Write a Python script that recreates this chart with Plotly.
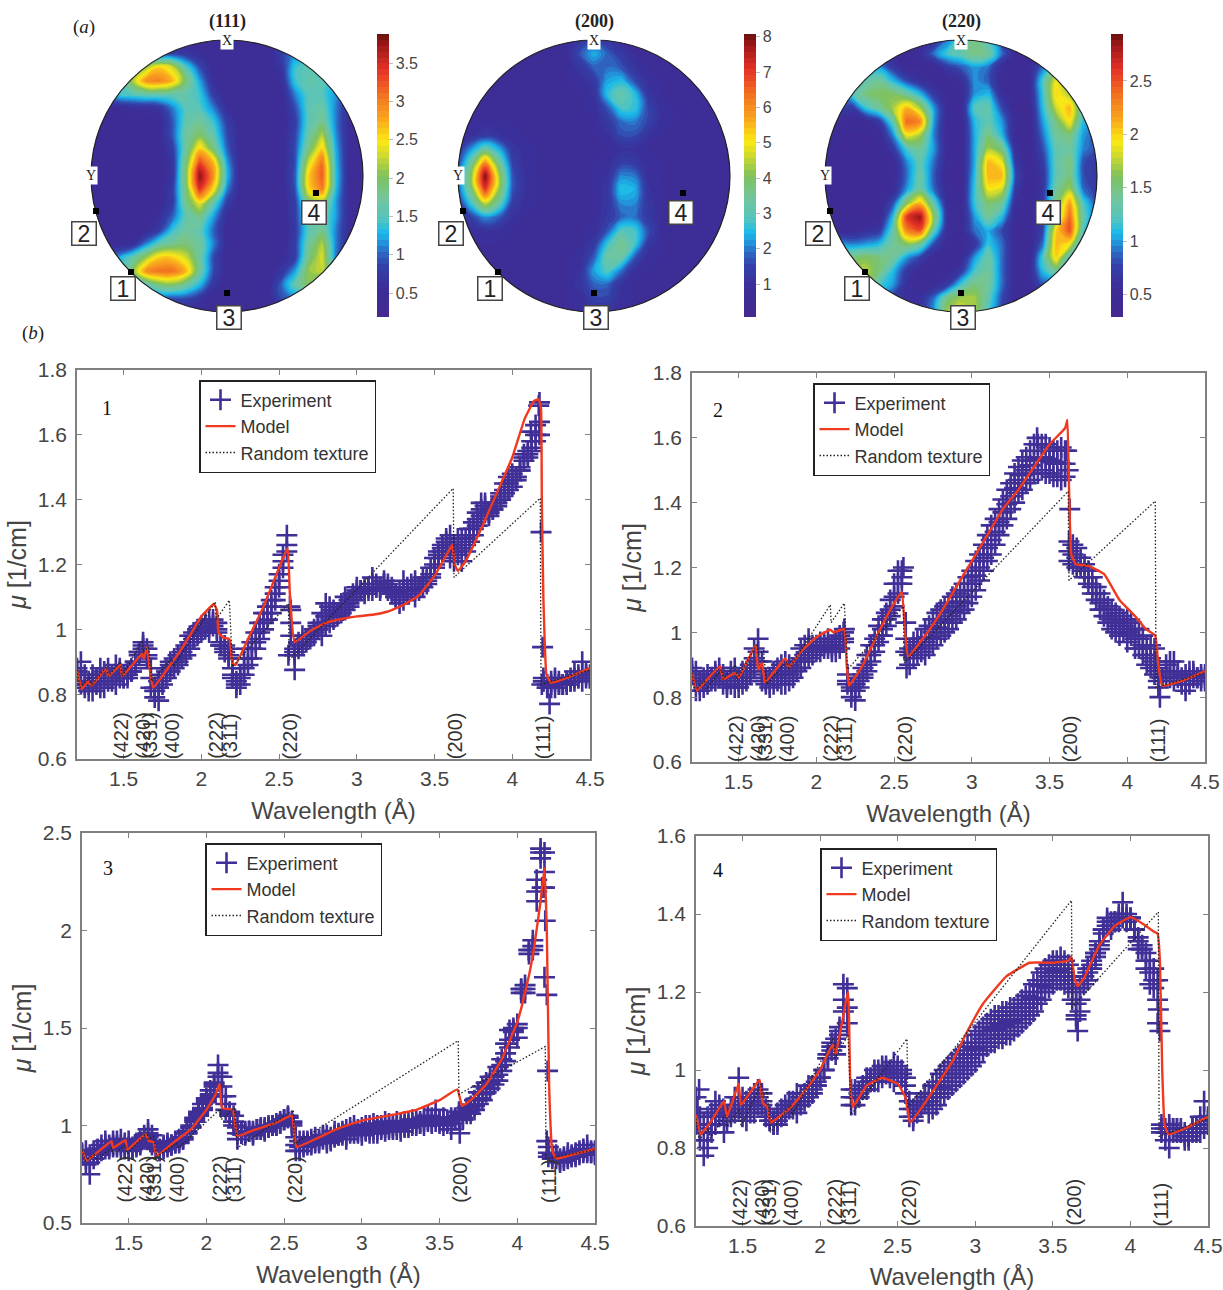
import plotly.graph_objects as go
import numpy as np

W, H = 1223, 1290

# ---------- pole figure data (rows top to bottom) ----------
pole_x = [-1.0,-0.9,-0.8,-0.7,-0.6,-0.5,-0.4,-0.3,-0.2,-0.1,0.0,0.1,0.2,0.3,0.4,0.5,0.6,0.7,0.8,0.9,1.0]
pole_y = [1.0,0.9,0.8,0.7,0.6,0.5,0.4,0.3,0.2,0.1,0.0,-0.1,-0.2,-0.3,-0.4,-0.5,-0.6,-0.7,-0.8,-0.9,-1.0]

pole_111 = [
[.5,.5,.5,.5,.5,.5,.5,.5,.5,.5,.5,.5,.5,.5,.5,.5,.5,.5,.5,.5,.5],
[.7,.7,.7,.7,.7,.7,.8,.7,.6,.5,.5,.5,.5,.5,.8,1.1,1.0,.7,.5,.5,.5],
[1.1,1.1,1.1,1.3,2.1,2.6,2.3,1.5,.9,.5,.5,.5,.5,.5,.7,1.4,1.55,1.3,.8,.5,.5],
[1.3,1.3,1.3,2.1,2.9,3.0,2.7,1.9,1.2,.6,.5,.5,.5,.5,.6,1.4,1.6,1.55,1.15,.7,.5],
[1.1,1.1,1.4,1.5,1.6,1.6,1.6,1.6,1.4,.8,.5,.5,.5,.5,.5,1.1,1.55,1.5,1.15,.7,.5],
[.5,.5,.5,.6,.6,.7,1.1,1.55,1.5,1.1,.6,.5,.5,.5,.5,.9,1.55,1.65,1.1,.6,.5],
[.45,.45,.45,.45,.45,.5,.95,1.6,1.75,1.4,.8,.5,.5,.5,.5,.8,1.55,1.8,1.1,.55,.5],
[.45,.45,.45,.45,.45,.5,.95,1.7,2.0,1.6,.9,.5,.5,.5,.5,.85,1.65,2.2,1.15,.55,.5],
[.45,.45,.45,.45,.45,.5,.8,1.7,2.6,1.9,1.0,.5,.5,.5,.5,.9,1.85,2.6,1.25,.55,.5],
[.43,.43,.43,.43,.43,.45,.7,1.9,3.3,2.7,1.2,.5,.5,.5,.5,.9,2.3,3.1,1.3,.55,.5],
[.43,.43,.43,.43,.43,.45,.7,2.0,3.8,2.9,1.3,.5,.5,.5,.5,.95,2.6,3.2,1.35,.55,.5],
[.43,.43,.43,.43,.43,.45,.8,1.9,3.4,2.5,1.1,.5,.5,.5,.5,.9,2.5,3.0,1.3,.55,.5],
[.45,.45,.45,.45,.45,.5,.8,1.8,2.4,1.6,.8,.5,.5,.5,.5,.8,1.85,2.0,1.2,.55,.5],
[.45,.45,.45,.45,.45,.6,1.0,1.6,1.8,1.2,.6,.5,.5,.5,.5,.8,1.6,1.7,1.2,.55,.5],
[.45,.45,.45,.45,.5,.8,1.4,1.7,1.6,1.0,.55,.5,.5,.5,.5,.75,1.55,1.8,1.1,.55,.5],
[.5,.5,.5,.6,1.1,1.6,1.8,1.9,1.7,1.1,.55,.5,.5,.5,.5,.8,1.7,2.2,1.1,.55,.5],
[1.0,1.0,1.2,1.6,2.1,2.6,2.6,2.3,1.7,.9,.5,.5,.5,.5,.55,.8,1.85,2.35,1.1,.55,.5],
[1.2,1.2,1.2,1.9,2.9,3.1,3.1,2.7,1.7,.9,.5,.5,.5,.5,.7,1.2,2.1,2.25,1.3,.6,.5],
[1.1,1.1,1.1,1.2,1.5,1.9,2.0,1.7,1.3,.7,.5,.5,.5,.5,1.0,1.6,2.0,1.6,.9,.5,.5],
[.7,.7,.7,.7,.7,.9,.9,.9,.7,.5,.5,.5,.5,.5,.9,1.1,1.0,.7,.5,.5,.5],
[.5,.5,.5,.5,.5,.5,.5,.5,.5,.5,.5,.5,.5,.5,.5,.5,.5,.5,.5,.5,.5],
]

pole_200 = [
[.9,.9,.9,.9,.9,.9,.9,.9,.9,1.2,1.5,1.2,.9,.9,.9,.9,.9,.9,.9,.9,.9],
[.9,.9,.9,.9,.9,.9,.9,.9,.9,1.7,2.4,1.8,1.3,.9,.9,.9,.9,.9,.9,.9,.9],
[.9,.9,.9,.9,.9,.9,.9,.9,.9,1.2,1.8,1.9,1.7,1.1,.9,.9,.9,.9,.9,.9,.9],
[.9,.9,.9,.9,.9,.9,.9,.9,.9,.95,1.3,2.3,2.5,1.6,1.0,.9,.9,.9,.9,.9,.9],
[.9,.9,.9,.9,.9,.9,.9,.9,.9,.9,1.1,2.6,3.2,2.6,1.2,.9,.9,.9,.9,.9,.9],
[.9,.9,.9,.9,.9,.9,.9,.9,.9,.9,.95,1.7,2.8,2.7,1.5,.95,.9,.9,.9,.9,.9],
[.9,.9,.9,.9,.9,.9,.9,.9,.9,.9,.9,1.3,1.9,2.0,1.5,.95,.9,.9,.9,.9,.9],
[.9,1.0,1.3,1.1,.95,.9,.9,.9,.9,.9,.9,1.05,1.6,1.6,1.1,.9,.9,.9,.9,.9,.9],
[1.2,2.2,3.2,2.4,1.2,.95,.9,.9,.9,.9,.9,.9,1.0,1.0,.9,.9,.9,.9,.9,.9,.9],
[1.5,3.4,6.0,3.5,1.5,.95,.9,.9,.9,.9,.9,.95,1.4,1.3,.95,.9,.9,.9,.9,.9,.9],
[1.8,4.2,8.0,4.4,1.7,1.0,.9,.9,.9,.9,.9,1.1,2.1,2.0,1.0,.9,.9,.9,.9,.9,.9],
[1.7,3.8,7.0,4.2,1.7,1.0,.9,.9,.9,.9,.9,1.2,2.6,2.4,1.1,.9,.9,.9,.9,.9,.9],
[1.2,2.8,4.6,3.3,1.4,.95,.9,.9,.9,.9,.9,1.2,2.1,2.1,1.2,.9,.9,.9,.9,.9,.9],
[.9,1.5,2.2,1.8,1.1,.9,.9,.9,.9,.9,.9,1.3,1.8,1.9,1.3,.9,.9,.9,.9,.9,.9],
[.9,.95,1.1,1.0,.9,.9,.9,.9,.9,.9,.95,1.7,2.9,2.8,1.6,.9,.9,.9,.9,.9,.9],
[.9,.9,.9,.9,.9,.9,.9,.9,.9,.9,1.3,2.7,3.6,2.8,1.2,.9,.9,.9,.9,.9,.9],
[.9,.9,.9,.9,.9,.9,.9,.9,.9,.95,1.8,3.3,3.3,1.7,.95,.9,.9,.9,.9,.9,.9],
[.9,.9,.9,.9,.9,.9,.9,.9,.9,1.1,2.3,2.9,1.9,1.0,.9,.9,.9,.9,.9,.9,.9],
[.9,.9,.9,.9,.9,.9,.9,.9,.9,1.2,1.8,1.8,1.1,.9,.9,.9,.9,.9,.9,.9,.9],
[.9,.9,.9,.9,.9,.9,.9,.9,.9,.95,1.5,1.5,1.0,.9,.9,.9,.9,.9,.9,.9,.9],
[.9,.9,.9,.9,.9,.9,.9,.9,.9,.9,1.1,1.1,.9,.9,.9,.9,.9,.9,.9,.9,.9],
]

pole_220 = [
[.5,.5,.5,.5,.5,.5,.5,.5,.6,.9,1.3,1.5,1.2,.7,.5,.5,.5,.5,.5,.5,.5],
[.5,.5,.5,.5,.5,.5,.5,.55,.9,1.2,1.3,1.5,1.4,.9,.5,.5,.5,.5,.5,.5,.5],
[.7,.7,.7,.8,1.0,.7,.5,.5,.5,.7,.85,1.0,.9,.55,.45,.5,.9,1.3,1.2,.8,.7],
[1.0,1.0,1.0,1.3,1.4,1.1,.8,.6,.5,.5,.55,1.0,.85,.5,.45,.5,1.2,1.9,1.5,.9,.8],
[1.2,.9,1.2,1.5,1.6,1.6,1.4,1.1,.7,.5,.5,1.0,1.1,.6,.45,.5,1.15,2.0,1.7,1.1,.9],
[.9,.8,.7,1.15,1.4,1.7,2.1,1.7,1.0,.5,.5,1.25,1.3,.8,.45,.45,1.1,1.8,2.1,1.2,.9],
[.9,.55,.5,.5,.7,1.3,2.4,2.3,1.0,.5,.45,1.1,1.3,1.0,.5,.45,1.0,1.5,1.95,1.1,.9],
[.7,.47,.45,.45,.5,.95,1.9,1.7,.95,.5,.45,1.05,1.5,1.1,.5,.45,.9,1.4,1.5,1.0,.8],
[.5,.45,.44,.44,.46,.7,1.2,1.4,1.0,.5,.45,1.05,1.7,1.5,.6,.45,.8,1.3,1.4,.95,.8],
[.46,.44,.43,.43,.45,.5,.95,1.3,.9,.5,.45,1.05,2.1,1.9,.7,.45,.7,1.3,1.5,.8,.7],
[.46,.44,.43,.43,.45,.5,.9,1.35,.85,.45,.45,1.1,2.1,2.1,.8,.45,.65,1.3,1.5,.8,.7],
[.46,.44,.43,.43,.45,.55,1.0,1.4,.9,.5,.45,1.15,1.9,1.8,.7,.45,.65,1.4,1.7,.9,.7],
[.47,.44,.44,.44,.46,.8,1.6,2.1,1.3,.55,.45,1.15,1.55,1.4,.6,.45,.7,1.5,2.2,1.2,.8],
[.5,.45,.45,.45,.47,1.1,2.6,2.85,1.6,.6,.45,1.0,1.4,1.1,.5,.45,.7,1.6,2.4,1.3,.8],
[.6,.5,.5,.6,.7,1.3,2.3,2.5,1.3,.55,.5,.9,1.05,.8,.5,.45,.75,2.0,2.5,1.2,.8],
[.8,1.0,.95,1.0,1.1,1.4,1.6,1.4,.8,.5,.5,.65,1.15,.9,.5,.45,.9,2.1,1.9,.9,.7],
[1.3,1.3,1.5,1.6,1.5,1.4,1.0,.75,.5,.45,.5,1.0,1.35,.9,.5,.45,1.2,2.0,1.2,.7,.6],
[1.7,1.7,1.7,1.75,1.5,1.1,.7,.5,.45,.5,.7,1.2,1.4,.9,.5,.5,1.1,1.4,.8,.6,.5],
[1.7,1.7,1.7,1.6,1.2,1.0,.6,.5,.55,.7,1.2,1.5,1.4,.9,.5,.5,.8,.7,.5,.5,.5],
[1.5,1.5,1.5,1.4,1.0,.7,.6,.6,.9,1.5,1.7,1.7,1.3,.8,.5,.5,.5,.5,.5,.5,.5],
[1.5,1.5,1.5,1.4,1.0,.7,.6,.6,1.0,1.7,1.8,1.7,1.2,.8,.5,.5,.5,.5,.5,.5,.5],
]

pole_names = ["(111)", "(200)", "(220)"]
pole_centres_px = [227, 594, 961]
pole_zrange = [(0.19, 3.88), (0.07, 8.08), (0.29, 2.94)]
pole_ticks = [[.5,1,1.5,2,2.5,3,3.5], [1,2,3,4,5,6,7,8], [.5,1,1.5,2,2.5]]
cbar_left_px = [377, 744, 1111]

spot_names = ["1", "2", "3", "4"]
spot_x = [-0.706, -0.963, 0.0, 0.654]
spot_y = [-0.706, -0.257, -0.86, -0.125]
spot_label_x = [-0.765, -1.05, 0.015, 0.64]
spot_label_y = [-0.83, -0.42, -1.037, -0.265]

colors = [[0,'#44298f'],[.1,'#3c2d98'],[.18,'#3440a8'],[.23,'#2c6cc4'],[.27,'#1f9fe0'],[.30,'#1bbbe8'],
          [.35,'#58c5bd'],[.42,'#72c59a'],[.5,'#80c25c'],[.57,'#cfd92e'],[.62,'#fbe914'],[.69,'#f9ad1e'],
          [.77,'#f47c20'],[.87,'#e63327'],[.95,'#a81b1b'],[1,'#6e0f10']]

# ---------- attenuation spectra ----------
wavelengths = [1.2,1.225,1.25,1.275,1.3,1.325,1.35,1.375,1.4,1.425,
 1.45,1.475,1.5,1.525,1.55,1.575,1.6,1.625,1.65,1.675,
 1.7,1.725,1.75,1.775,1.8,1.825,1.85,1.875,1.9,1.925,
 1.95,1.975,2.0,2.025,2.05,2.075,2.1,2.125,2.15,2.175,
 2.2,2.225,2.25,2.275,2.3,2.325,2.35,2.375,2.4,2.425,
 2.45,2.475,2.5,2.525,2.55,2.575,2.6,2.625,2.65,2.675,
 2.7,2.725,2.75,2.775,2.8,2.825,2.85,2.875,2.9,2.925,
 2.95,2.975,3.0,3.025,3.05,3.075,3.1,3.125,3.15,3.175,
 3.2,3.225,3.25,3.275,3.3,3.325,3.35,3.375,3.4,3.425,
 3.45,3.475,3.5,3.525,3.55,3.575,3.6,3.625,3.65,3.675,
 3.7,3.725,3.75,3.775,3.8,3.825,3.85,3.875,3.9,3.925,
 3.95,3.975,4.0,4.025,4.05,4.075,4.1,4.125,4.15,4.175,
 4.2,4.225,4.25,4.275,4.3,4.325,4.35,4.375,4.4,4.425,
 4.45,4.475,4.5]

exp1_hi = [.88,.90,.86,.84,.86,.85,.88,.87,.88,.86,
 .89,.88,.85,.87,.88,.90,.93,.96,.94,.88,
 .82,.84,.86,.88,.90,.91,.92,.93,.95,.98,
 .99,1.00,1.01,1.02,1.03,1.03,1.02,.96,.95,.94,
 .88,.84,.86,.91,.94,.96,.99,1.02,1.05,1.07,
 1.09,1.13,1.17,1.23,1.29,1.06,.94,.96,.98,.97,
 .98,1.00,1.02,1.05,1.08,1.07,1.06,1.05,1.08,1.10,
 1.09,1.11,1.13,1.12,1.13,1.12,1.16,1.14,1.13,1.15,
 1.14,1.13,1.11,1.12,1.15,1.13,1.14,1.15,1.13,1.16,
 1.16,1.19,1.22,1.24,1.26,1.28,1.29,1.26,1.28,1.28,
 1.28,1.31,1.33,1.36,1.39,1.39,1.36,1.38,1.39,1.42,
 1.45,1.47,1.48,1.47,1.50,1.54,1.55,1.58,1.63,1.70,
 .85,.83,.84,.85,.84,.83,.84,.85,.87,.86,.90,.87,.85]
exp1_mid = [.87,.84,.83,.83,.84,.84,.85,.86,.86,.85,
 .86,.87,.85,.86,.87,.90,.93,.95,.92,.85,
 .81,.82,.85,.87,.89,.90,.90,.92,.94,.96,
 .98,.99,1.00,1.01,1.01,1.02,1.00,.95,.94,.92,
 .86,.83,.85,.88,.91,.94,.96,.99,1.02,1.05,
 1.07,1.11,1.15,1.21,1.26,1.02,.93,.95,.96,.97,
 .98,.99,1.01,1.02,1.04,1.05,1.04,1.05,1.06,1.08,
 1.08,1.10,1.12,1.12,1.12,1.13,1.14,1.13,1.13,1.14,
 1.13,1.12,1.10,1.10,1.12,1.12,1.13,1.12,1.13,1.14,
 1.15,1.17,1.20,1.23,1.25,1.27,1.26,1.24,1.25,1.25,
 1.26,1.29,1.31,1.34,1.37,1.38,1.36,1.37,1.39,1.41,
 1.43,1.45,1.46,1.47,1.49,1.53,1.54,1.56,1.60,1.64,
 .84,.82,.83,.84,.83,.83,.84,.84,.85,.85,.87,.86,.85]
exp1_lo = [.87,.83,.82,.81,.81,.83,.82,.82,.84,.84,
 .83,.85,.86,.85,.87,.89,.92,.94,.91,.82,
 .79,.78,.83,.85,.87,.88,.89,.91,.92,.94,
 .97,.98,.99,1.00,.99,1.01,.99,.95,.93,.91,
 .85,.82,.83,.86,.89,.91,.94,.97,1.00,1.03,
 1.05,1.09,1.13,1.19,1.24,.98,.92,.94,.95,.96,
 .97,.98,1.00,.98,1.01,1.02,1.03,1.04,1.05,1.06,
 1.07,1.09,1.11,1.12,1.11,1.13,1.12,1.13,1.12,1.14,
 1.12,1.11,1.10,1.08,1.09,1.11,1.12,1.10,1.12,1.13,
 1.14,1.16,1.19,1.22,1.24,1.26,1.22,1.21,1.23,1.21,
 1.24,1.27,1.29,1.32,1.35,1.36,1.35,1.37,1.38,1.40,
 1.42,1.43,1.44,1.46,1.49,1.52,1.53,1.55,1.58,1.60,
 .84,.82,.82,.82,.83,.83,.83,.84,.84,.85,.84,.85,.86]
exp1_extra_x = [4.185,4.195,4.19,2.57,2.6,4.24,2.56,4.17,4.12]
exp1_extra_y = [1.30,.945,.83,1.07,.875,.77,.92,1.69,1.61]

exp2_hi = [.89,.88,.85,.86,.87,.86,.88,.89,.87,.85,
 .88,.89,.86,.88,.88,.90,.95,.98,.91,.86,
 .86,.88,.89,.90,.91,.90,.89,.91,.95,.96,
 .96,.96,.96,.97,.97,.98,.96,.98,.99,1.00,
 .87,.83,.84,.86,.89,.93,.96,.98,1.02,1.04,
 1.06,1.10,1.15,1.19,1.19,1.03,.95,.97,.98,.98,
 1.01,1.02,1.04,1.06,1.07,1.08,1.09,1.11,1.12,1.13,
 1.15,1.17,1.19,1.22,1.24,1.27,1.30,1.33,1.35,1.38,
 1.41,1.44,1.46,1.49,1.51,1.53,1.54,1.56,1.58,1.58,
 1.58,1.58,1.57,1.56,1.56,1.57,1.56,1.28,1.27,1.26,
 1.23,1.21,1.19,1.17,1.14,1.12,1.10,1.08,1.07,1.06,
 1.05,1.04,1.04,1.03,1.01,1.01,.99,.96,.96,.95,
 .88,.86,.90,.91,.91,.88,.86,.87,.88,.88,.86,.85,.85]
exp2_mid = [.88,.85,.84,.85,.85,.86,.87,.87,.86,.84,
 .86,.86,.85,.86,.86,.88,.92,.94,.88,.85,
 .84,.86,.87,.87,.88,.87,.88,.89,.92,.93,
 .94,.95,.95,.96,.96,.96,.95,.96,.97,.98,
 .85,.82,.82,.85,.87,.90,.93,.96,.99,1.01,
 1.04,1.07,1.11,1.15,1.17,.98,.93,.95,.96,.96,
 .97,.985,1.0,1.015,1.03,1.04,1.05,1.065,1.08,1.095,
 1.11,1.13,1.15,1.175,1.20,1.23,1.26,1.285,1.31,1.34,
 1.37,1.395,1.42,1.445,1.47,1.485,1.50,1.515,1.53,1.535,
 1.54,1.535,1.53,1.525,1.52,1.52,1.52,1.25,1.24,1.23,
 1.21,1.19,1.17,1.14,1.12,1.09,1.07,1.05,1.04,1.03,
 1.02,1.02,1.00,1.01,.98,.98,.96,.93,.92,.91,
 .85,.86,.88,.88,.88,.87,.85,.84,.86,.87,.86,.86,.86]
exp2_lo = [.87,.82,.82,.83,.84,.85,.85,.86,.84,.83,
 .84,.83,.83,.84,.85,.87,.89,.91,.85,.84,
 .83,.84,.85,.84,.84,.85,.86,.88,.89,.91,
 .92,.93,.94,.94,.95,.95,.94,.94,.95,.97,
 .84,.80,.79,.83,.86,.88,.91,.94,.97,.99,
 1.02,1.05,1.08,1.12,1.15,.94,.90,.92,.93,.94,
 .93,.95,.96,.98,.99,1.00,1.01,1.03,1.04,1.06,
 1.07,1.09,1.11,1.13,1.16,1.19,1.22,1.24,1.27,1.30,
 1.33,1.35,1.38,1.40,1.43,1.44,1.46,1.47,1.49,1.49,
 1.50,1.49,1.49,1.48,1.48,1.47,1.48,1.22,1.21,1.20,
 1.20,1.17,1.15,1.12,1.10,1.07,1.05,1.03,1.01,1.00,
 .99,1.00,.97,.99,.95,.95,.93,.90,.89,.87,
 .83,.86,.86,.86,.85,.86,.84,.82,.84,.86,.86,.87,.87]
exp2_extra_x = [3.63,3.62,3.61,4.21,4.2,1.95,2.18,2.58,3.42,2.56]
exp2_extra_y = [1.38,1.5,1.56,.80,.89,.98,1.01,.89,1.60,1.20]

exp3_hi = [.86,.87,.85,.87,.88,.90,.92,.90,.92,.92,
 .93,.91,.92,.89,.91,.92,.95,.98,.95,.90,
 .88,.90,.91,.90,.92,.93,.94,.97,1.00,1.04,
 1.07,1.11,1.14,1.18,1.22,1.31,1.25,1.15,1.07,1.05,
 .99,.96,.97,.97,.95,.98,.98,.97,.99,1.00,
 1.00,1.01,1.03,1.04,1.02,.94,.92,.92,.92,.93,
 .94,.93,.95,.95,.94,.97,.96,.97,.98,.99,
 1.00,.98,.99,1.00,1.00,1.01,1.00,1.00,1.02,1.01,
 1.00,1.02,1.01,1.02,1.02,1.03,1.03,1.02,1.04,1.05,
 1.04,1.08,1.03,1.04,1.03,1.04,1.04,1.07,1.06,1.09,
 1.10,1.13,1.17,1.20,1.22,1.25,1.25,1.30,1.34,1.42,
 1.49,1.50,1.52,1.70,1.72,1.88,1.95,2.26,2.42,2.40,
 .89,.85,.85,.83,.84,.86,.85,.86,.87,.88,.90,.86,.85]
exp3_mid = [.85,.83,.81,.85,.86,.88,.90,.89,.90,.90,
 .90,.89,.89,.88,.90,.91,.94,.96,.92,.89,
 .87,.89,.90,.90,.91,.92,.93,.96,.99,1.03,
 1.06,1.09,1.13,1.16,1.21,1.27,1.20,1.11,1.06,1.02,
 .96,.96,.96,.97,.96,.98,.98,.98,.99,1.00,
 1.00,1.01,1.03,1.04,1.01,.90,.89,.90,.91,.91,
 .92,.92,.94,.93,.93,.95,.95,.96,.95,.97,
 .98,.97,.97,.98,.98,.98,.98,.99,.99,.99,
 .99,1.00,.99,1.00,1.00,1.01,1.01,1.01,1.02,1.03,
 1.02,1.04,1.02,1.02,1.02,1.01,1.03,1.05,1.04,1.07,
 1.08,1.10,1.14,1.16,1.19,1.22,1.23,1.26,1.31,1.37,
 1.44,1.49,1.50,1.70,1.70,1.90,1.92,2.20,2.40,2.30,
 .86,.84,.84,.82,.83,.84,.84,.85,.86,.87,.87,.86,.86]
exp3_lo = [.85,.80,.75,.83,.85,.87,.88,.88,.89,.89,
 .88,.88,.87,.88,.89,.90,.93,.94,.90,.88,
 .87,.88,.89,.90,.91,.91,.93,.96,.99,1.02,
 1.05,1.08,1.12,1.15,1.20,1.25,1.15,1.08,1.05,1.00,
 .93,.96,.95,.97,.97,.98,.99,.99,1.00,1.00,
 1.01,1.02,1.03,1.05,1.00,.87,.87,.89,.90,.90,
 .91,.91,.93,.91,.92,.94,.95,.95,.93,.96,
 .96,.96,.95,.97,.96,.96,.96,.98,.97,.98,
 .98,.98,.97,.99,.99,1.00,1.00,1.01,1.00,1.02,
 1.01,1.02,1.01,1.00,1.01,.98,1.03,1.04,1.03,1.06,
 1.06,1.08,1.11,1.13,1.17,1.19,1.21,1.23,1.28,1.33,
 1.40,1.48,1.45,1.68,1.68,1.90,1.90,2.15,2.37,2.22,
 .84,.83,.83,.81,.82,.83,.84,.84,.85,.86,.86,.87,.87]
exp3_extra_x = [4.18,4.175,4.19,4.195,4.19,3.63,4.16]
exp3_extra_y = [2.05,1.76,1.67,1.28,.92,.96,2.22]

exp4_hi = [.93,.88,.86,.88,.89,.92,.91,.90,.88,.90,
 .93,.98,.93,.92,.93,.94,.95,.94,.90,.88,
 .87,.89,.90,.91,.92,.92,.94,.93,.94,.96,
 .96,.97,.98,1.00,1.04,1.07,1.08,1.11,1.22,1.21,
 .95,.95,.94,.96,.98,.98,1.00,1.00,1.01,1.01,
 1.00,1.02,1.01,1.00,.98,.92,.90,.91,.92,.94,
 .94,.96,.97,.99,1.00,1.01,1.02,1.03,1.04,1.05,
 1.06,1.07,1.09,1.10,1.11,1.12,1.13,1.14,1.14,1.15,
 1.15,1.16,1.16,1.17,1.18,1.19,1.20,1.22,1.23,1.25,
 1.26,1.27,1.28,1.28,1.29,1.28,1.27,1.24,1.20,1.21,
 1.24,1.26,1.28,1.29,1.33,1.36,1.39,1.38,1.38,1.40,
 1.43,1.40,1.39,1.36,1.34,1.32,1.30,1.28,1.26,1.23,
 .86,.85,.86,.84,.85,.84,.84,.83,.84,.85,.88,.92,.88]
exp4_mid = [.89,.85,.82,.84,.86,.89,.90,.89,.88,.89,
 .91,.93,.90,.90,.91,.92,.93,.92,.89,.87,
 .86,.87,.89,.90,.91,.91,.91,.92,.93,.94,
 .95,.96,.98,1.00,1.03,1.06,1.06,1.10,1.18,1.16,
 .93,.93,.93,.95,.97,.97,.98,.99,1.00,1.00,
 .99,1.00,1.00,.99,.96,.90,.88,.90,.91,.93,
 .92,.93,.94,.955,.97,.98,.99,1.00,1.01,1.02,
 1.03,1.04,1.055,1.07,1.08,1.09,1.10,1.105,1.11,1.115,
 1.12,1.125,1.13,1.14,1.15,1.16,1.17,1.185,1.20,1.215,
 1.23,1.24,1.25,1.255,1.26,1.25,1.24,1.21,1.17,1.18,
 1.23,1.25,1.27,1.30,1.32,1.36,1.38,1.37,1.38,1.39,
 1.40,1.39,1.39,1.36,1.33,1.31,1.28,1.25,1.23,1.18,
 .85,.84,.85,.85,.85,.84,.83,.83,.85,.85,.86,.88,.87]
exp4_lo = [.86,.82,.78,.80,.84,.86,.88,.89,.87,.88,
 .89,.90,.88,.87,.89,.89,.91,.91,.88,.87,
 .86,.86,.88,.89,.90,.90,.89,.91,.92,.93,
 .94,.96,.98,1.00,1.03,1.05,1.04,1.09,1.15,1.12,
 .91,.91,.93,.95,.95,.97,.97,.97,.98,.99,
 .98,.97,.99,.98,.94,.88,.87,.89,.91,.92,
 .89,.90,.91,.93,.94,.95,.96,.97,.98,.99,
 1.00,1.01,1.02,1.04,1.05,1.06,1.07,1.07,1.08,1.08,
 1.09,1.09,1.10,1.11,1.12,1.13,1.14,1.15,1.17,1.18,
 1.20,1.21,1.22,1.23,1.23,1.22,1.21,1.18,1.13,1.15,
 1.22,1.23,1.26,1.30,1.31,1.35,1.37,1.36,1.38,1.38,
 1.39,1.38,1.39,1.36,1.31,1.31,1.26,1.22,1.21,1.12,
 .84,.82,.84,.85,.84,.85,.82,.82,.85,.84,.84,.85,.86]
exp4_extra_x = [4.18,4.19,3.66,1.22,1.21,1.38,4.25,3.65]
exp4_extra_y = [1.155,1.10,1.10,.95,.90,.84,.80,1.14]

random_x = [1.2,1.22,1.28,1.29,1.39,1.40,1.48,1.49,1.62,1.625,1.66,1.68,1.81,1.82,2.09,2.095,2.18,2.20,2.56,2.565,3.62,3.625,4.18,4.185,4.5]
random_y = [.875,.82,.85,.825,.885,.855,.90,.855,.965,.93,.945,.84,.91,.885,1.085,1.03,1.09,.885,1.08,.905,1.435,1.16,1.405,.83,.875]

m1_x = [1.2,1.23,1.27,1.29,1.39,1.40,1.48,1.49,1.62,1.63,1.65,1.67,1.69,1.8,1.9,2.0,2.08,2.1,2.11,2.14,2.18,2.2,2.22,2.3,2.4,2.5,2.555,2.57,2.6,2.7,2.8,2.9,3.0,3.1,3.2,3.3,3.4,3.5,3.6,3.615,3.63,3.65,3.7,3.8,3.9,4.0,4.08,4.14,4.17,4.185,4.19,4.2,4.22,4.25,4.35,4.5]
m1_y = [.875,.815,.84,.825,.88,.855,.89,.855,.925,.91,.945,.87,.82,.89,.96,1.04,1.078,1.06,.99,.975,.97,.895,.89,.97,1.07,1.19,1.25,1.10,.96,.995,1.02,1.032,1.04,1.045,1.055,1.075,1.105,1.165,1.25,1.26,1.20,1.18,1.21,1.31,1.42,1.53,1.65,1.705,1.71,1.68,1.40,1.10,.86,.835,.85,.88]
m2_x = [1.2,1.23,1.27,1.38,1.4,1.48,1.5,1.61,1.625,1.65,1.67,1.8,1.82,1.9,2.0,2.09,2.11,2.18,2.195,2.21,2.3,2.4,2.5,2.55,2.57,2.59,2.7,2.8,2.9,3.0,3.1,3.2,3.3,3.4,3.5,3.6,3.615,3.625,3.64,3.67,3.75,3.85,3.95,4.05,4.12,4.18,4.2,4.225,4.35,4.5]
m2_y = [.875,.82,.84,.895,.855,.875,.86,.96,.885,.905,.845,.92,.89,.94,.985,1.008,1.0,1.01,.90,.835,.90,1.0,1.09,1.125,1.0,.925,.99,1.06,1.14,1.22,1.30,1.38,1.44,1.51,1.58,1.63,1.655,1.45,1.24,1.21,1.205,1.18,1.10,1.05,1.01,.99,.90,.835,.85,.88]
m3_x = [1.2,1.23,1.39,1.4,1.48,1.49,1.61,1.63,1.66,1.68,1.8,1.9,2.0,2.06,2.085,2.1,2.17,2.2,2.3,2.45,2.55,2.58,2.7,2.85,3.0,3.2,3.35,3.5,3.615,3.645,3.7,3.8,3.9,4.0,4.05,4.1,4.15,4.175,4.19,4.205,4.225,4.25,4.35,4.5]
m3_y = [.875,.82,.92,.885,.925,.875,.955,.92,.915,.845,.92,.98,1.08,1.16,1.215,1.09,1.08,.945,.975,1.015,1.05,.89,.93,.985,1.025,1.055,1.08,1.13,1.185,1.10,1.13,1.21,1.34,1.53,1.68,1.87,2.15,2.32,2.0,1.2,.87,.83,.85,.88]
m4_x = [1.2,1.23,1.3,1.38,1.4,1.475,1.49,1.61,1.63,1.66,1.68,1.8,1.9,2.0,2.08,2.1,2.18,2.195,2.21,2.3,2.4,2.5,2.55,2.58,2.7,2.85,2.95,3.05,3.2,3.35,3.5,3.6,3.62,3.64,3.66,3.7,3.8,3.9,4.0,4.08,4.15,4.175,4.19,4.205,4.22,4.245,4.35,4.5]
m4_y = [.885,.835,.87,.92,.88,.965,.91,.975,.915,.905,.865,.90,.945,1.0,1.065,1.04,1.20,.95,.905,.96,.98,.965,.93,.865,.93,1.02,1.10,1.17,1.24,1.275,1.275,1.28,1.29,1.235,1.215,1.235,1.32,1.37,1.392,1.375,1.355,1.35,1.28,1.0,.86,.835,.85,.88]

hkl_labels = ["(422)","(420)","(331)","(400)","(222)","(311)","(220)","(200)","(111)"]
hkl_x = [1.48,1.62,1.665,1.81,2.09,2.18,2.57,3.63,4.2]

# panels: axis box in page pixels
panel_boxes = [(77,590,370,759),(692,1205,373,762),(82,595,833,1223),(696,1208,836,1226)]
panel_yrange = [(.6,1.8),(.6,1.8),(.5,2.5),(.6,1.6)]
panel_yticks = [[.6,.8,1,1.2,1.4,1.6,1.8],[.6,.8,1,1.2,1.4,1.6,1.8],[.5,1,1.5,2,2.5],[.6,.8,1,1.2,1.4,1.6]]
panel_ytext = [["0.6","0.8","1","1.2","1.4","1.6","1.8"],["0.6","0.8","1","1.2","1.4","1.6","1.8"],["0.5","1","1.5","2","2.5"],["0.6","0.8","1","1.2","1.4","1.6"]]
panel_names = ["1","2","3","4"]
panel_name_px = [(107,408),(718,410),(108,868),(718,870)]
legend_px = [(199,380),(813,383),(205,843),(820,848)]
hkl_bottom = [.6,.6,.605,.6]
model_x = [m1_x,m2_x,m3_x,m4_x]
model_y = [m1_y,m2_y,m3_y,m4_y]
exp_hi = [exp1_hi,exp2_hi,exp3_hi,exp4_hi]
exp_mid = [exp1_mid,exp2_mid,exp3_mid,exp4_mid]
exp_lo = [exp1_lo,exp2_lo,exp3_lo,exp4_lo]
extra_x = [exp1_extra_x,exp2_extra_x,exp3_extra_x,exp4_extra_x]
extra_y = [exp1_extra_y,exp2_extra_y,exp3_extra_y,exp4_extra_y]

SANS = "Liberation Sans"
SERIF = "Liberation Serif"
GREY = "#454545"
INDIGO = "#3f2f96"
RED = "#f0391f"

def px(x): return x / W
def py(y): return 1 - y / H

fig = go.Figure()
layout = dict(width=W, height=H, margin=dict(l=0, r=0, t=0, b=0, autoexpand=False), paper_bgcolor="white", plot_bgcolor="white",
              showlegend=True, font=dict(family=SANS, color=GREY))
shapes, annots = [], []

def note(x, y, text, size=18, family=SERIF, color="#222", **kw):
    annots.append(dict(x=x, y=y, xref="paper", yref="paper", text=text, showarrow=False, xanchor="center", yanchor="middle",
                       font=dict(family=family, size=size, color=color), **kw))

# pole figures
R_PX, CY_PX, PAD = 136, 176, 1.05
circle = [(np.cos(t), np.sin(t)) for t in np.linspace(0, 2*np.pi, 240)]
# the circle is walked in the opposite sense to the square, which leaves a hole
mask_path = f"M{-PAD},{-PAD} L{PAD},{-PAD} L{PAD},{PAD} L{-PAD},{PAD} Z M" + " L".join(f"{a:.4f},{-b:.4f}" for a, b in circle) + " Z"

for i, (z, name, cx, zr, ticks, cb) in enumerate(zip([pole_111, pole_200, pole_220], pole_names, pole_centres_px, pole_zrange, pole_ticks, cbar_left_px)):
    xa, ya = f"x{i+5}", f"y{i+5}"
    half = R_PX * PAD
    layout[f"xaxis{i+5}"] = dict(domain=[px(cx-half), px(cx+half)], range=[-PAD, PAD], visible=False, anchor=ya)
    layout[f"yaxis{i+5}"] = dict(domain=[py(CY_PX+half), py(CY_PX-half)], range=[-PAD, PAD], visible=False, anchor=xa)
    fig.add_trace(go.Contour(x=pole_x, y=pole_y, z=z, xaxis=xa, yaxis=ya, zmin=zr[0], zmax=zr[1], colorscale=colors,
        contours=dict(coloring="fill", start=zr[0], end=zr[1], size=(zr[1]-zr[0])/48, showlines=False),
        line=dict(width=0, smoothing=1.3), showlegend=False, hoverinfo="skip",
        colorbar=dict(x=px(cb), xanchor="left", y=py(34), yanchor="top", len=283, lenmode="pixels", thickness=12,
                      thicknessmode="pixels", xpad=0, ypad=0, outlinewidth=0, tickvals=ticks,
                      ticktext=[str(t) for t in ticks], ticks="outside", ticklen=4, tickcolor="rgba(90,90,90,0.4)", ticklabelposition="outside",
                      tickfont=dict(family=SANS, size=16, color=GREY))))
    shapes.append(dict(type="path", path=mask_path, xref=xa, yref=ya, fillcolor="white", line=dict(width=0), layer="above"))
    shapes.append(dict(type="circle", x0=-1, x1=1, y0=-1, y1=1, xref=xa, yref=ya, line=dict(color="#222", width=1.2), layer="above"))
    for sx, sy in zip(spot_x, spot_y):
        shapes.append(dict(type="rect", xref=xa, yref=ya, xsizemode="pixel", ysizemode="pixel", xanchor=sx, yanchor=sy,
                           x0=-3, x1=3, y0=-3, y1=3, fillcolor="black", line=dict(width=0), layer="above"))
    for lab, lx, ly in zip(spot_names, spot_label_x, spot_label_y):
        annots.append(dict(x=px(cx + lx*R_PX), y=py(CY_PX - ly*R_PX), xref="paper", yref="paper", text=lab, showarrow=False,
                           xanchor="center", yanchor="middle",
                           font=dict(family=SANS, size=23, color="#222"), bgcolor="white", bordercolor="#444",
                           borderwidth=1.5, borderpad=0, width=23, height=22))
    note(px(cx), py(22), f"<b>{name}</b>", size=18)
    note(px(cx), py(40), "X", size=14, bgcolor="white", borderpad=1)
    note(px(cx-136), py(175), "Y", size=14, bgcolor="white", borderpad=1)

note(px(84), py(27), "(<i>a</i>)", size=19)
note(px(33), py(333), "(<i>b</i>)", size=19)

# spectra
for i in range(4):
    n = i + 1
    sfx = "" if i == 0 else str(n)
    x0, x1, top, bot = panel_boxes[i]
    leg = "legend" + sfx
    ex = wavelengths + wavelengths + wavelengths + extra_x[i]
    ey = exp_hi[i] + exp_mid[i] + exp_lo[i] + extra_y[i]
    fig.add_trace(go.Scatter(x=ex, y=ey, mode="markers", name="Experiment", legend=leg, xaxis=f"x{sfx}", yaxis=f"y{sfx}",
        marker=dict(symbol="cross-thin", size=15, color=INDIGO, line=dict(color=INDIGO, width=2.6))))
    fig.add_trace(go.Scatter(x=model_x[i], y=model_y[i], mode="lines", name="Model", legend=leg, xaxis=f"x{sfx}", yaxis=f"y{sfx}",
        line=dict(color=RED, width=2.4, shape="spline", smoothing=0.3)))
    fig.add_trace(go.Scatter(x=random_x, y=random_y, mode="lines", name="Random texture", legend=leg, xaxis=f"x{sfx}", yaxis=f"y{sfx}",
        line=dict(color="#222", width=1.3, dash="1.5px,2px")))
    layout["xaxis"+sfx] = dict(domain=[px(x0), px(x1)], range=[1.2, 4.5], anchor="y"+sfx, tickvals=[1.5,2,2.5,3,3.5,4,4.5],
        ticktext=["1.5","2","2.5","3","3.5","4","4.5"], ticks="inside", ticklen=5, tickcolor="#808080", showline=True, mirror="ticks",
        linecolor="#808080", linewidth=1.5, showgrid=False, zeroline=False, tickfont=dict(family=SANS, size=21, color=GREY),
        title=dict(text="Wavelength (Å)", standoff=13, font=dict(family=SANS, size=24, color=GREY)))
    layout["yaxis"+sfx] = dict(domain=[py(bot), py(top)], range=list(panel_yrange[i]), anchor="x"+sfx, tickvals=panel_yticks[i],
        ticktext=panel_ytext[i], ticks="inside", ticklen=5, tickcolor="#808080", showline=True, mirror="ticks", ticklabelstandoff=4,
        linecolor="#808080", linewidth=1.5, showgrid=False, zeroline=False, tickfont=dict(family=SANS, size=21, color=GREY),
        title=dict(text="<i>μ</i> [1/cm]", standoff=4, font=dict(family=SANS, size=25, color=GREY)))
    lx, ly = legend_px[i]
    layout[leg] = dict(x=px(lx), y=py(ly), xanchor="left", yanchor="top", xref="paper", yref="paper", bgcolor="white",
                       bordercolor="#222", borderwidth=1.5, font=dict(family=SANS, size=18, color="#333"), itemwidth=30,
                       tracegroupgap=0)
    for lab, hx in zip(hkl_labels, hkl_x):
        annots.append(dict(x=hx, y=hkl_bottom[i], xref="x"+sfx, yref="y"+sfx, text=lab, textangle=-90, showarrow=False,
                           xanchor="center", yanchor="bottom", font=dict(family=SANS, size=20, color="#333"), borderpad=0, borderwidth=0))
    nx, ny = panel_name_px[i]
    note(px(nx), py(ny), panel_names[i], size=20, color="#111")

layout["shapes"] = shapes
layout["annotations"] = annots
fig.update_layout(**layout)
fig.write_html("out.html", config=dict(displayModeBar=False),
               post_script="document.body.style.margin='0';document.body.style.overflow='hidden';")
